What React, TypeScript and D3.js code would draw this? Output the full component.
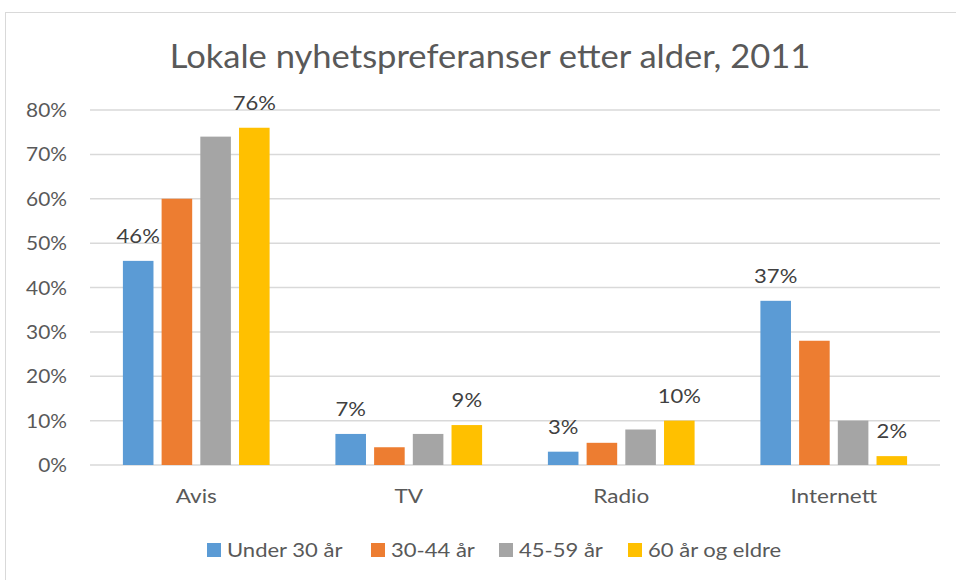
import React, { useEffect, useRef } from 'react';
import * as d3 from 'd3';

const categories = ['Avis', 'TV', 'Radio', 'Internett'];
const seriesNames = ['Under 30 år', '30-44 år', '45-59 år', '60 år og eldre'];
const under30 = [46, 7, 3, 37];
const age30to44 = [60, 4, 5, 28];
const age45to59 = [74, 7, 8, 10];
const age60plus = [76, 9, 10, 2];
const yTicks = [0, 10, 20, 30, 40, 50, 60, 70, 80];
const colors = ['#5B9BD5', '#ED7D31', '#A5A5A5', '#FFC000'];
// only the first and last series carry data labels
const labelled = [true, false, false, true];

const W = 956;
const H = 580;
const FONT = 'Lato, "Open Sans", sans-serif';
// the reference text is a bit wider than Lato, so stretch it horizontally
const SX = 1.13;

type Sel = d3.Selection<any, unknown, null, undefined>;

function label(g: Sel, x: number, y: number, str: string, size: number, anchor: string, color: string, sx = SX) {
  g.append('text')
    .attr('transform', `translate(${x},${y}) scale(${sx},1)`)
    .attr('text-anchor', anchor)
    .attr('font-family', FONT)
    .attr('font-size', size)
    .attr('fill', color)
    .text(str);
}

export default function App() {
  const ref = useRef<SVGSVGElement>(null);

  useEffect(() => {
    const svg = d3.select(ref.current);
    svg.selectAll('*').remove();

    const series = [under30, age30to44, age45to59, age60plus];

    // chart area border
    svg.append('rect')
      .attr('x', 5.5).attr('y', 12.5)
      .attr('width', W + 20).attr('height', H + 20)
      .attr('fill', '#fff')
      .attr('stroke', '#d9d9d9').attr('stroke-width', 1);

    label(svg, 490, 68, 'Lokale nyhetspreferanser etter alder, 2011', 32, 'middle', '#595959', 1.08);

    const x0 = d3.scaleBand().domain(categories).range([90, 940]).padding(0);
    const x1 = d3.scaleBand()
      .domain(seriesNames)
      .range([0, x0.bandwidth()])
      .paddingInner(0.21)
      .paddingOuter(0.85);
    const y = d3.scaleLinear().domain([0, 80]).range([465, 110]);

    // gridlines
    svg.append('g').selectAll('line').data(yTicks).enter().append('line')
      .attr('x1', 90).attr('x2', 940)
      .attr('y1', d => y(d)).attr('y2', d => y(d))
      .attr('stroke', '#d9d9d9').attr('stroke-width', 1.5);

    // y tick labels
    const yl = svg.append('g');
    yTicks.forEach(t => label(yl, 67, y(t) + 7, `${t}%`, 18.5, 'end', '#595959'));

    // bars
    series.forEach((vals, si) => {
      const g = svg.append('g');
      const bx = (i: number) => (x0(categories[i]) || 0) + (x1(seriesNames[si]) || 0);
      g.selectAll('rect').data(vals).enter().append('rect')
        .attr('x', (d, i) => bx(i))
        .attr('y', d => y(d))
        .attr('width', x1.bandwidth())
        .attr('height', d => y(0) - y(d))
        .attr('fill', colors[si]);

      if (labelled[si]) {
        vals.forEach((v, i) => label(g, bx(i) + x1.bandwidth() / 2, y(v) - 18, `${v}%`, 19.5, 'middle', '#404040'));
      }
    });

    // category labels
    const cl = svg.append('g');
    categories.forEach(c => label(cl, (x0(c) || 0) + x0.bandwidth() / 2, 503, c, 20, 'middle', '#595959'));

    // legend
    const legendX = [207, 371, 499, 628];
    const lg = svg.append('g');
    seriesNames.forEach((name, i) => {
      lg.append('rect')
        .attr('x', legendX[i]).attr('y', 543)
        .attr('width', 14).attr('height', 14)
        .attr('fill', colors[i]);
      label(lg, legendX[i] + 20, 557, name, 19.5, 'start', '#595959');
    });
  }, []);

  return (
    <div style={{ position: 'absolute', left: 0, top: 0 }}>
      <svg ref={ref} width={W} height={H} style={{ display: 'block' }} />
    </div>
  );
}
